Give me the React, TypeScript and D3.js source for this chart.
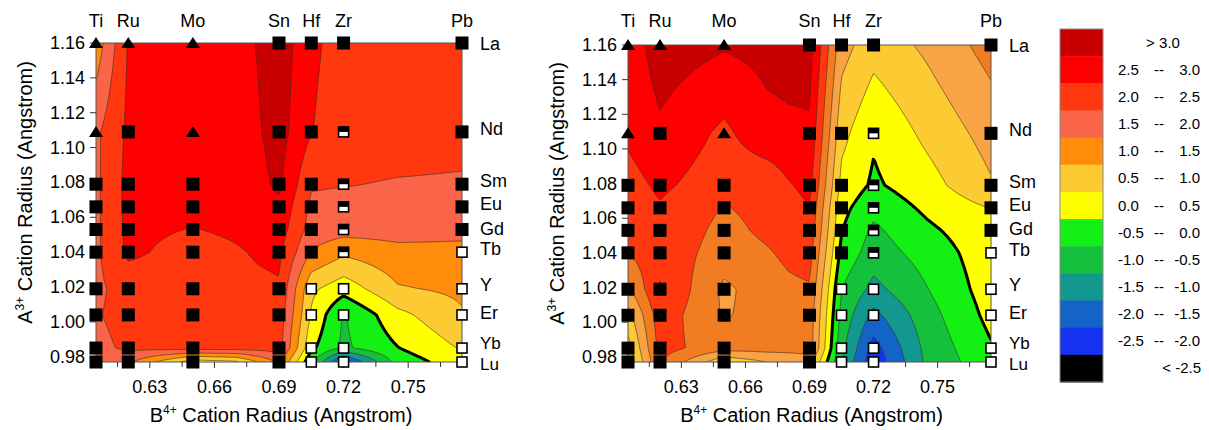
import React from 'react';
import * as d3 from 'd3';

// B4+ radii (Angstrom) of the columns the values were read at: the element columns plus a few in between
const bCols = [0.605, 0.62, 0.65, 0.67, 0.68, 0.69, 0.705, 0.72, 0.745, 0.775];
// A3+ radii, La down to Lu
const aRows = [1.16, 1.109, 1.079, 1.066, 1.053, 1.04, 1.019, 1.004, 0.985, 0.977];
const aNames = ['La', 'Nd', 'Sm', 'Eu', 'Gd', 'Tb', 'Y', 'Er', 'Yb', 'Lu'];
const bNames = ['Ti', 'Ru', 'Mo', 'Sn', 'Hf', 'Zr', 'Pb'];
const bRadii = [0.605, 0.62, 0.65, 0.69, 0.705, 0.72, 0.775];

// marker kind per B element, rows La..Lu: t triangle, s filled square, h half filled, o open square
const markerKinds = [
  'ttssssssss',
  'tsssssssss',
  'ttssssssss',
  'ssssssssss',
  'ssssssoooo',
  'shhhhhoooo',
  'sssssooooo',
];

// left map, one list per bCols entry, rows La..Lu
const leftValues = [
  [1.2, 1.9, 1.9, 1.9, 1.9, 1.9, 1.9, 1.95, 1.85, 1.6],
  [2.55, 2.6, 2.65, 2.65, 2.62, 2.6, 2.2, 2.2, 2.1, 1.6],
  [2.8, 2.8, 2.75, 2.62, 2.48, 2.3, 2.25, 2.25, 2.2, 0.2],
  [2.85, 2.85, 2.78, 2.7, 2.58, 2.45, 2.3, 2.25, 2.2, 0.4],
  [3.02, 2.95, 2.85, 2.75, 2.65, 2.55, 2.4, 2.3, 2.2, 1.0],
  [3.3, 3.2, 3.1, 2.9, 2.75, 2.6, 2.45, 2.3, 2.2, 1.6],
  [2.6, 2.52, 2.05, 1.9, 1.8, 1.48, 0.6, 0.45, 0.1, -0.4],
  [2.3, 2.2, 2.02, 1.85, 1.7, 1.1, 0.2, -0.55, -0.6, -2.2],
  [2.3, 2.2, 1.97, 1.85, 1.7, 1.35, 0.95, 0.35, -0.02, -0.3],
  [2.3, 2.15, 1.95, 1.8, 1.6, 1.4, 1.1, 0.95, 0.55, 0.3],
];

// right map
const rightValues = [
  [2.7, 2.6, 2.3, 2.2, 2.1, 2.02, 1.4, 0.8, 0.3, 0.1],
  [3.26, 2.91, 2.6, 2.45, 2.4, 2.35, 2.55, 2.3, 2.2, 2.05],
  [3.05, 2.39, 2.2, 1.97, 1.85, 1.75, 1.4, 1.45, 1.7, 0.6],
  [3.15, 2.85, 2.15, 2.15, 2.1, 1.95, 1.75, 1.7, 1.7, 1.0],
  [3.2, 2.9, 2.45, 2.3, 2.2, 2.1, 1.9, 1.75, 1.7, 1.1],
  [3.2, 2.93, 2.65, 2.48, 2.35, 2.2, 1.95, 1.8, 1.75, 1.2],
  [1.2, 0.65, 0.35, 0.15, 0.02, -0.15, -0.5, -0.65, -0.85, -1.0],
  [0.7, 0.07, -0.08, -0.35, -0.6, -0.75, -1.15, -1.65, -2.2, -2.35],
  [1.1, 0.62, 0.3, 0.1, -0.1, -0.3, -0.52, -0.7, -0.85, -0.9],
  [1.7, 1.2, 0.95, 0.52, 0.35, 0.3, 0.25, 0.15, -0.05, -0.15],
];

const thresholds = [-2.5, -2.0, -1.5, -1.0, -0.5, 0, 0.5, 1.0, 1.5, 2.0, 2.5, 3.0];
// bin colours, lowest (< -2.5) first
const binColors = ['#000000', '#1432f0', '#1464c8', '#139890', '#14c03c', '#14f014', '#ffff00',
  '#fccb33', '#ff8c0a', '#fa6448', '#ff3810', '#ff0000', '#c80000'];
// the right map shows the 1.0-1.5 and 1.5-2.0 bands lighter
const binColorsRight = binColors.map((c, i) => (i === 8 ? '#f8a444' : i === 9 ? '#f27c22' : c));

const yTicks = [0.98, 1.0, 1.02, 1.04, 1.06, 1.08, 1.1, 1.12, 1.14, 1.16];
const xTicks = [0.63, 0.66, 0.69, 0.72, 0.75];
const xMinorTicks = [0.615, 0.645, 0.675, 0.705, 0.735, 0.765];
const nameNudge = [6, 2, 2, 2, 4, 2, 1, 3, 0, 7];

const FONT = 'Liberation Sans, Arial, Helvetica, sans-serif';

const panels = [
  { id: 'l', left: 96, top: 43, width: 366, height: 319, values: leftValues, colors: binColors },
  { id: 'r', left: 628, top: 45, width: 363, height: 317, values: rightValues, colors: binColorsRight },
];

function fieldValue(values, b, a) {
  let i = 0;
  while (i < bCols.length - 2 && b > bCols[i + 1]) i++;
  let j = 0;
  while (j < aRows.length - 2 && a < aRows[j + 1]) j++;
  const tx = Math.max(0, Math.min(1, (b - bCols[i]) / (bCols[i + 1] - bCols[i])));
  const ty = Math.max(0, Math.min(1, (aRows[j] - a) / (aRows[j] - aRows[j + 1])));
  const top = values[i][j] * (1 - tx) + values[i + 1][j] * tx;
  const bot = values[i][j + 1] * (1 - tx) + values[i + 1][j + 1] * tx;
  return top * (1 - ty) + bot * ty;
}

function Marker({ kind, cx, cy }) {
  if (kind === 't') {
    return <path d={`M${cx},${cy - 6}L${cx + 7},${cy + 5}L${cx - 7},${cy + 5}Z`} fill="#000" />;
  }
  if (kind === 's') return <rect x={cx - 6.5} y={cy - 6.5} width={13} height={13} fill="#000" />;
  if (kind === 'o') {
    return <rect x={cx - 5} y={cy - 5} width={10} height={10} fill="#fff" stroke="#000" strokeWidth={1.6} />;
  }
  return (
    <g>
      <rect x={cx - 5} y={cy - 5} width={10} height={10} fill="#fff" stroke="#000" strokeWidth={1.6} />
      <rect x={cx - 5} y={cy - 5} width={10} height={5} fill="#000" />
    </g>
  );
}

function Panel({ p }) {
  const x = d3.scaleLinear().domain([0.605, 0.775]).range([p.left, p.left + p.width]);
  const y = d3.scaleLinear().domain([0.977, 1.16]).range([p.top + p.height, p.top]);

  // sample the field on a fine raster that overhangs the frame, so polygon edges fall outside the clip
  const pad = 6;
  const step = 1.5;
  const gx0 = p.left - pad;
  const gy0 = p.top - pad;
  const nx = Math.ceil((p.width + 2 * pad) / step);
  const ny = Math.ceil((p.height + 2 * pad) / step);
  const grid = new Array(nx * ny);
  for (let r = 0; r < ny; r++) {
    const a = y.invert(gy0 + (r + 0.5) * step);
    for (let c = 0; c < nx; c++) {
      grid[r * nx + c] = fieldValue(p.values, x.invert(gx0 + (c + 0.5) * step), a);
    }
  }
  const bands = d3.contours().size([nx, ny]).thresholds(thresholds)(grid);
  const path = d3.geoPath(d3.geoTransform({
    point(px, py) { this.stream.point(gx0 + px * step, gy0 + py * step); },
  }));
  const clipId = `clip-${p.id}`;
  const right = p.left + p.width;
  const bottom = p.top + p.height;

  return (
    <g fontFamily={FONT}>
      <defs>
        <clipPath id={clipId}>
          <rect x={p.left} y={p.top} width={p.width} height={p.height} />
        </clipPath>
      </defs>
      <g clipPath={`url(#${clipId})`}>
        <rect x={p.left} y={p.top} width={p.width} height={p.height} fill={p.colors[0]} />
        {bands.map((b, i) => <path key={`f${i}`} d={path(b)} fill={p.colors[i + 1]} />)}
        {bands.filter(b => b.value !== 0).map((b, i) => (
          <path key={`s${i}`} d={path(b)} fill="none" stroke="#3a2a22" strokeWidth={0.7} strokeOpacity={0.85} />
        ))}
        {bands.filter(b => b.value === 0).map((b, i) => (
          <path key={`z${i}`} d={path(b)} fill="none" stroke="#000" strokeWidth={3} strokeLinejoin="round" />
        ))}
      </g>
      <rect x={p.left} y={p.top} width={p.width} height={p.height} fill="none" stroke="#555" strokeWidth={1} />

      {yTicks.map(t => (
        <g key={`yt${t}`}>
          <line x1={p.left - 6} x2={p.left} y1={y(t)} y2={y(t)} stroke="#333" strokeWidth={1} />
          <text x={p.left - 11} y={y(t) + 6} textAnchor="end" fontSize={18}>{t.toFixed(2)}</text>
        </g>
      ))}
      {xMinorTicks.map(t => (
        <line key={`xm${t}`} x1={x(t)} x2={x(t)} y1={bottom} y2={bottom + 5} stroke="#333" strokeWidth={1} />
      ))}
      {xTicks.map(t => (
        <g key={`xt${t}`}>
          <line x1={x(t)} x2={x(t)} y1={bottom} y2={bottom + 6} stroke="#333" strokeWidth={1} />
          <text x={x(t)} y={bottom + 31} textAnchor="middle" fontSize={18}>{t.toFixed(2)}</text>
        </g>
      ))}

      {bNames.map((n, bi) => (
        <text key={`bn${n}`} x={x(bRadii[bi])} y={27} textAnchor="middle" fontSize={18}>{n}</text>
      ))}
      {aNames.map((n, ai) => (
        <text key={`an${n}`} x={right + 18} y={y(aRows[ai]) + nameNudge[ai] + 1} fontSize={ai >= 8 ? 17 : 18}>{n}</text>
      ))}

      {bNames.map((n, bi) => aRows.map((a, ai) => (
        <Marker key={`m${n}${ai}`} kind={markerKinds[bi][ai]} cx={x(bRadii[bi])} cy={y(a)} />
      )))}

      <text x={(p.left + right) / 2 + 2} y={422} textAnchor="middle" fontSize={20}>
        B<tspan dy={-8} fontSize={12}>4+</tspan><tspan dy={8}> Cation Radius (Angstrom)</tspan>
      </text>
      <text transform={`translate(${p.left - 64},${(p.top + bottom) / 2 - 10}) rotate(-90)`} textAnchor="middle" fontSize={20}>
        A<tspan dy={-8} fontSize={12}>3+</tspan><tspan dy={8}> Cation Radius (Angstrom)</tspan>
      </text>
    </g>
  );
}

function Legend() {
  const x0 = 1060;
  const y0 = 29;
  const w = 43;
  const h = 353;
  const n = binColors.length;
  const sy = d3.scaleBand().domain(d3.range(n)).range([y0, y0 + h]);
  const colorsTopDown = binColors.slice().reverse();
  const desc = thresholds.slice().reverse();
  return (
    <g fontFamily={FONT} fontSize={15}>
      {colorsTopDown.map((c, i) => (
        <rect key={`lg${i}`} x={x0} y={sy(i)} width={w} height={sy.bandwidth() + 0.5} fill={c} />
      ))}
      <rect x={x0} y={y0} width={w} height={h} fill="none" stroke="#888" strokeWidth={1} />
      {colorsTopDown.map((c, i) => {
        const cy = sy(i) + sy.bandwidth() / 2 + 5;
        if (i === 0) return <text key={`lt${i}`} x={1163} y={cy} textAnchor="middle">{`> ${desc[0].toFixed(1)}`}</text>;
        if (i === n - 1) return <text key={`lt${i}`} x={1201} y={cy} textAnchor="end">{`<  ${thresholds[0].toFixed(1)}`}</text>;
        const lo = desc[i];
        const hi = desc[i - 1];
        return (
          <g key={`lt${i}`}>
            <text x={1118} y={cy}>{lo.toFixed(1)}</text>
            <text x={1159} y={cy} textAnchor="middle">--</text>
            <text x={1200} y={cy} textAnchor="end">{hi.toFixed(1)}</text>
          </g>
        );
      })}
    </g>
  );
}

export default function App() {
  return (
    <svg width={1209} height={430} style={{ position: 'absolute', left: 0, top: 0, background: '#fff' }}>
      {panels.map(p => <Panel key={p.id} p={p} />)}
      <Legend />
    </svg>
  );
}
